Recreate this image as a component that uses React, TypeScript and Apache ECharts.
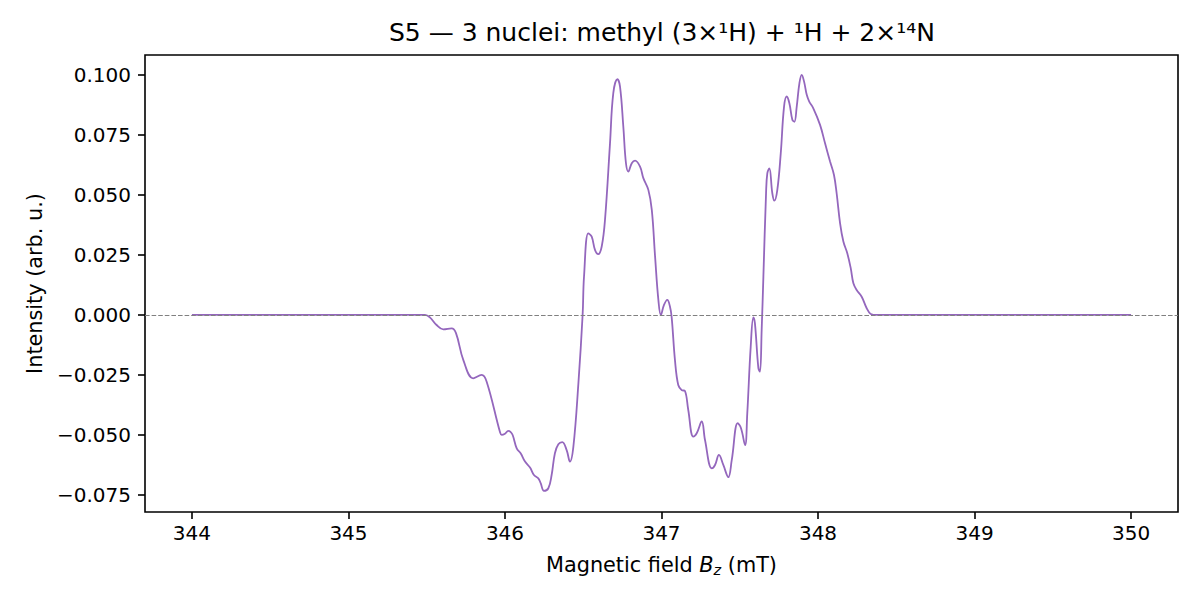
import React, { useEffect, useRef } from "react";
import * as echarts from "echarts";

const titleText = "S5 — 3 nuclei: methyl (3×¹H) + ¹H + 2×¹⁴N";
const xTickValues = [344, 345, 346, 347, 348, 349, 350];
const yTickValues = [-0.075, -0.05, -0.025, 0, 0.025, 0.05, 0.075, 0.1];

const fieldValues = [
  344.0, 345.0, 345.489, 345.52, 345.563, 345.606, 345.659, 345.687, 345.734, 345.797,
  345.851, 345.883, 345.968, 345.979, 346.0, 346.021, 346.035, 346.049, 346.075, 346.1,
  346.128, 346.16, 346.185, 346.213, 346.228, 346.249, 346.277, 346.298, 346.319, 346.341,
  346.366, 346.394, 346.415, 346.437, 346.469, 346.496,
  346.505, 346.532, 346.554, 346.575, 346.596, 346.618, 346.639, 346.671, 346.692, 346.718,
  346.735, 346.756, 346.773, 346.788, 346.81, 346.831, 346.863, 346.884, 346.916, 346.938,
  346.959, 346.98, 346.996, 347.016, 347.037, 347.054, 347.065, 347.086, 347.107, 347.129,
  347.15, 347.171, 347.203, 347.225, 347.257, 347.278, 347.321, 347.342, 347.367, 347.395,
  347.427, 347.449, 347.487, 347.508, 347.534, 347.548, 347.57, 347.587, 347.597, 347.619,
  347.629, 347.64, 347.651, 347.668, 347.676, 347.689, 347.708, 347.721, 347.74, 347.762,
  347.783, 347.8, 347.817, 347.836, 347.849, 347.864, 347.881, 347.896, 347.911, 347.928,
  347.944, 347.97, 348.013, 348.045, 348.077, 348.102, 348.119, 348.141, 348.162, 348.187,
  348.209, 348.226, 348.247, 348.279, 348.311, 348.337, 348.375, 349.0, 350.0,
];

const intensityValues = [
  0, 0, 0, -0.001, -0.0042, -0.006, -0.0056, -0.0076, -0.0188, -0.0264,
  -0.025, -0.0278, -0.0488, -0.05, -0.0495, -0.0483, -0.0487, -0.05, -0.0556, -0.0576,
  -0.0611, -0.0636, -0.0667, -0.0681, -0.0701, -0.0733, -0.0722, -0.0667, -0.0576, -0.0539,
  -0.053, -0.0563, -0.0611, -0.0549, -0.0285, 0,
  0.016, 0.034, 0.0326, 0.0271, 0.0253, 0.0285, 0.0396, 0.0715, 0.0924, 0.0982,
  0.0951, 0.0785, 0.0632, 0.0597, 0.0632, 0.0643, 0.0618, 0.057, 0.0521, 0.0438,
  0.0243, 0.0063, 0.0, 0.0042, 0.0063, 0.0035, -0.001, -0.0188, -0.0292, -0.0313,
  -0.0317, -0.0396, -0.0507, -0.0493, -0.0444, -0.0521, -0.0639, -0.0625, -0.0583, -0.0625,
  -0.0676, -0.0604, -0.0451, -0.0472, -0.0542, -0.041, -0.0132, -0.001, -0.0035, -0.0222,
  -0.0236, -0.0063, 0.016, 0.0507, 0.059, 0.0611, 0.0507, 0.0476, 0.0521, 0.0674,
  0.0868, 0.091, 0.0882, 0.0813, 0.0805, 0.0868, 0.0965, 0.1, 0.0972, 0.0917,
  0.0889, 0.0861, 0.0792, 0.0715, 0.0639, 0.0583, 0.0507, 0.0382, 0.0306, 0.0257,
  0.0195, 0.0132, 0.0104, 0.0076, 0.0028, 0.0004, 0, 0, 0,
];

const FONT = "DejaVu Sans";
const TICK_FS = 20;
const LABEL_FS = 20.8;

export default function App() {
  const ref = useRef<HTMLDivElement>(null);
  useEffect(() => {
    if (!ref.current) return;
    const chart = echarts.init(ref.current, null, { renderer: "svg" });
    const seriesData = fieldValues.map((x, i) => [x, intensityValues[i]]);
    chart.setOption({
      animation: false,
      backgroundColor: "#ffffff",
      textStyle: { fontFamily: FONT, color: "#000" },
      title: {
        text: titleText,
        left: 389,
        top: 20,
        padding: 0,
        textStyle: { fontFamily: FONT, fontSize: 25, fontWeight: "normal", color: "#000" },
      },
      grid: {
        left: 145,
        right: 22,
        top: 55,
        bottom: 88,
        show: true,
        borderColor: "#000",
        borderWidth: 1.6,
        backgroundColor: "transparent",
      },
      xAxis: {
        type: "value",
        min: 343.7,
        max: 350.3,
        name: "{n|Magnetic field }{b|B}{s|z}{n| (mT)}",
        nameLocation: "middle",
        nameGap: 41,
        nameTextStyle: {
          rich: {
            n: { fontFamily: FONT, fontSize: LABEL_FS, color: "#000", lineHeight: 24 },
            b: { fontFamily: FONT, fontSize: LABEL_FS, fontStyle: "italic", color: "#000", lineHeight: 24 },
            s: { fontFamily: FONT, fontSize: 14.5, fontStyle: "italic", color: "#000", lineHeight: 24, padding: [9, 0, 0, 0] },
          },
        },
        axisLine: { show: false, onZero: false },
        splitLine: { show: false },
        axisTick: {
          show: true,
          length: 7,
          lineStyle: { color: "#000", width: 1.6 },
          customValues: xTickValues,
        },
        axisLabel: {
          fontFamily: FONT,
          fontSize: TICK_FS,
          color: "#000",
          margin: 11,
          customValues: xTickValues,
          formatter: (v: number) => String(Math.round(v)),
        },
      },
      yAxis: {
        type: "value",
        min: -0.0821,
        max: 0.1083,
        name: "Intensity (arb. u.)",
        nameLocation: "middle",
        nameGap: 100,
        nameTextStyle: { fontFamily: FONT, fontSize: LABEL_FS, color: "#000" },
        axisLine: { show: false, onZero: false },
        splitLine: { show: false },
        axisTick: {
          show: true,
          length: 7,
          lineStyle: { color: "#000", width: 1.6 },
          customValues: yTickValues,
        },
        axisLabel: {
          fontFamily: FONT,
          fontSize: TICK_FS,
          color: "#000",
          margin: 14,
          customValues: yTickValues,
          formatter: (v: number) => v.toFixed(3).replace("-", "\u2212"),
        },
      },
      series: [
        {
          type: "line",
          data: seriesData,
          showSymbol: false,
          symbol: "none",
          smooth: 0.4,
          lineStyle: { color: "#9467bd", width: 1.8 },
          silent: true,
          markLine: {
            silent: true,
            symbol: ["none", "none"],
            label: { show: false },
            lineStyle: { color: "#808080", type: [4.6, 2], width: 1.2 },
            data: [{ yAxis: 0 }],
          },
        },
      ],
    });
    return () => chart.dispose();
  }, []);
  return (
    <div
      ref={ref}
      style={{ position: "fixed", left: 0, top: 0, width: 1200, height: 600 }}
    />
  );
}
